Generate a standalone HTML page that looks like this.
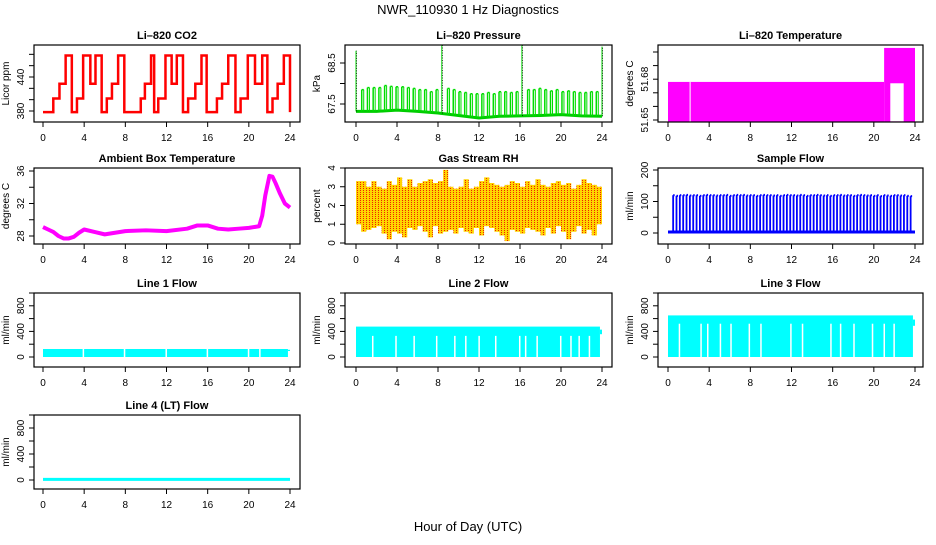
<!DOCTYPE html>
<html><head><meta charset="utf-8"><style>
html,body{margin:0;padding:0;background:#fff}
svg text{font-family:"Liberation Sans",sans-serif}
</style></head><body>
<svg id="chart" width="936" height="540" viewBox="0 0 936 540" xmlns="http://www.w3.org/2000/svg">
<defs>
<pattern id="reddots" width="3" height="2" patternUnits="userSpaceOnUse"><rect x="0" y="0" width="1" height="1" fill="#ee2200"/></pattern>
</defs>
<text x="468" y="14" font-size="13" text-anchor="middle">NWR_110930  1 Hz Diagnostics</text>
<text x="468" y="531" font-size="13" text-anchor="middle">Hour of Day (UTC)</text>
</svg>
<script>
// ---- data arrays ----
const xTicks = [0,4,8,12,16,20,24];
const co2StepHours = [0,1.0,1.6,2.2,2.8,3.3,3.9,4.6,5.1,5.7,6.2,6.7,7.3,7.9,9.5,9.9,10.5,10.8,11.2,11.9,12.5,13.0,13.6,14.1,14.8,15.4,15.9,16.9,17.4,18.0,18.7,19.2,19.9,20.6,21.3,21.8,22.3,22.8,23.4,24.0];
const co2StepValues = [378,402,428,478,378,402,478,428,478,378,402,428,478,378,402,428,478,378,402,478,428,478,378,402,428,478,378,402,428,478,378,402,478,428,478,378,402,428,478,378];
const presBaseHours = [0,2,4,6,8,10,12,14,16,18,20,22,24];
const presBaseValues = [67.32,67.32,67.35,67.32,67.28,67.22,67.16,67.2,67.21,67.22,67.24,67.21,67.2];
const presSpikeValues = [68.8,67.85,67.9,67.9,67.9,67.95,67.93,67.92,67.92,67.9,67.88,67.85,67.85,67.8,67.85,69.0,67.88,67.85,67.8,67.78,67.75,67.75,67.75,67.78,67.75,67.8,67.8,67.78,67.8,69.0,67.85,67.85,67.88,67.85,67.82,67.85,67.8,67.82,67.8,67.78,67.78,67.8,67.8,68.9];
const tempLowLevel = 51.678, tempHighLevel = 51.703, tempSwitchHour = 21;
const ambHours = [0,0.5,1,1.5,2,2.5,3,3.5,4,5,6,7,8,10,12,14,15,16,17,18,19,20,21,21.3,21.6,22,22.3,22.6,23,23.5,24];
const ambValues = [29.1,28.8,28.5,28.0,27.7,27.7,27.9,28.4,28.8,28.5,28.2,28.4,28.6,28.7,28.6,28.9,29.3,29.3,28.9,28.8,28.9,29.0,29.2,30.5,33.0,35.4,35.3,34.5,33.3,32.0,31.5];
const rhHi = [3.3,3.3,3.0,3.3,3.0,2.9,3.3,3.1,3.5,3.0,3.4,3.0,3.2,3.3,3.4,3.2,3.3,3.9,3.0,2.9,3.0,3.4,2.9,3.0,3.3,3.5,3.2,3.1,3.0,3.1,3.3,3.2,3.0,3.3,3.1,3.4,3.1,3.0,3.2,3.3,3.1,3.2,2.9,3.1,3.4,3.2,3.1,3.0];
const rhLo = [1.0,0.6,0.7,0.8,0.9,0.5,0.2,0.6,0.5,0.3,0.8,0.7,0.9,0.6,0.3,0.9,0.5,0.6,0.7,0.5,0.8,0.6,0.5,0.8,0.4,0.9,0.8,0.6,0.4,0.1,0.7,0.6,0.5,0.8,0.7,0.6,0.4,0.8,0.5,0.9,0.6,0.2,0.6,0.9,0.5,0.7,0.4,1.0];
const flowSpikeValues = [120,118,120,120,121,119,120,120,118,120,121,120,120,119,120,120,121,118,120,121,120,121,119,120,120,118,120,121,120,120,119,120,118,120,121,120,120,119,121,120,118,120,120,121,120,119,120,118,120,120,121,119,120,120,118,120,121,120,119,120,118,120,117,120,119,118,120,120,119,120,118,117];
const line1Top = 125, line1Gaps = [3.85,7.85,11.9,15.9,19.9,21.0];
const line2Top = 475, line2GapTop = 330, line2Gaps = [1.56,3.83,5.6,7.8,9.57,10.64,11.94,13.56,15.9,16.48,17.6,19.9,20.9,21.7,22.7];
const line3Top = 650, line3GapTop = 520, line3Gaps = [1.04,3.14,3.79,5.02,6.05,7.83,8.96,11.87,13.0,15.76,16.7,18.0,19.8,20.94,21.9];
const line4Value = 10;

// ---- layout ----
const svg = document.getElementById('chart');
const NS = 'http://www.w3.org/2000/svg';
const COLS = [{L:34,R:300,x0:43,x24:290},{L:345,R:612,x0:356,x24:602},{L:658,R:923,x0:668,x24:915}];
const ROWS = [{T:45,B:122},{T:168,B:244},{T:293,B:367},{T:415,B:489}];
function mk(tag, attrs, parent){const e=document.createElementNS(NS,tag);for(const k in attrs)e.setAttribute(k,attrs[k]);(parent||svg).appendChild(e);return e;}

function panel(name, c, r, title, ylab, v1, p1, v2, p2, ticks, labels){
  const col=COLS[c], row=ROWS[r];
  const g = mk('g',{});
  
  
  const xs = h => col.x0 + (h/24)*(col.x24-col.x0);
  const ys = v => p1 + (v-v1)*(p2-p1)/(v2-v1);
  const plot = mk('g',{},g);
  
  
  const cp = mk('clipPath',{id:'clip-'+name},g);
  mk('rect',{x:col.L,y:row.T,width:col.R-col.L,height:row.B-row.T},cp);
  plot.setAttribute('clip-path','url(#clip-'+name+')');
  const box = mk('rect',{x:col.L,y:row.T,width:col.R-col.L,height:row.B-row.T,fill:'none',stroke:'#000','stroke-width':1.2},g);
  
  
  const t = mk('text',{x:(col.L+col.R)/2,y:row.T-6,'font-size':11,'font-weight':'bold','text-anchor':'middle'},g);
  t.textContent = title;
  
  
  const xa = mk('g',{},g);
  
  
  mk('line',{x1:xs(0),x2:xs(24),y1:row.B,y2:row.B,stroke:'#000'},xa);
  xTicks.forEach(h=>{
    mk('line',{x1:xs(h),x2:xs(h),y1:row.B,y2:row.B+5,stroke:'#000'},xa);
    const tl = mk('text',{x:xs(h),y:row.B+19,'font-size':10,'text-anchor':'middle'},xa);
    tl.textContent = h;
    
    
  });
  const ya = mk('g',{},g);
  
  
  mk('line',{x1:col.L,x2:col.L,y1:ys(ticks[0]),y2:ys(ticks[ticks.length-1]),stroke:'#000'},ya);
  ticks.forEach(v=>{
    mk('line',{x1:col.L-5,x2:col.L,y1:ys(v),y2:ys(v),stroke:'#000'},ya);
  });
  labels.forEach(v=>{
    const x = col.L-10, y = ys(v);
    const tl = mk('text',{x:x,y:y,'font-size':10,'text-anchor':'middle',transform:'rotate(-90 '+x+' '+y+')'},ya);
    tl.textContent = v;
    
    
  });
  const lx = col.L-25, ly=(row.T+row.B)/2;
  const yl = mk('text',{x:lx,y:ly,'font-size':10,'text-anchor':'middle',transform:'rotate(-90 '+lx+' '+ly+')'},g);
  yl.textContent = ylab;
  
  
  return {plot, xs, ys};
}

// 1 CO2
(function(){
  const p = panel('co2',0,0,'Li\u2013820 CO2','Licor ppm',380,111,440,77,[380,400,420,440,460,480],[380,440]);
  let d='';
  for(let i=0;i<co2StepHours.length;i++){
    const x=p.xs(co2StepHours[i]), y=p.ys(co2StepValues[i]);
    if(i===0) d+='M'+x+','+y; else d+='V'+y;
    if(i<co2StepHours.length-1) d+='H'+p.xs(co2StepHours[i+1]);
  }
  const s = mk('path',{d:d,fill:'none',stroke:'#ff0000','stroke-width':2.5},p.plot);
  
  
})();

// 2 Pressure
(function(){
  const p = panel('pressure',1,0,'Li\u2013820 Pressure','kPa',67.5,104,68.5,63,[67.5,68.0,68.5],[67.5,68.5]);
  const base = h => {for(let i=0;i<presBaseHours.length-1;i++){if(h<=presBaseHours[i+1]){const f=(h-presBaseHours[i])/(presBaseHours[i+1]-presBaseHours[i]);return presBaseValues[i]+f*(presBaseValues[i+1]-presBaseValues[i]);}}return presBaseValues[presBaseValues.length-1];};
  const bp = presBaseHours.map((h,i)=>p.xs(h)+','+p.ys(presBaseValues[i])).join(' ');
  const b = mk('polyline',{points:bp,fill:'none',stroke:'#00cc00','stroke-width':3},p.plot);
  
  
  const n=presSpikeValues.length;
  presSpikeValues.forEach((v,i)=>{
    const h = i*24/(n-1);
    const x = p.xs(h);
    const big = v>68.3;
    const l = mk('line',{x1:x,x2:x,y1:p.ys(base(h)),y2:p.ys(v),stroke:'#00dd00','stroke-width':big?1:1.5},p.plot);
    
    
    if(!big){
      mk('line',{x1:x+2,x2:x+2,y1:p.ys(v),y2:p.ys(base(h)),stroke:'#00dd00','stroke-width':1},p.plot);
      mk('line',{x1:x,x2:x+2,y1:p.ys(v),y2:p.ys(v),stroke:'#00dd00','stroke-width':1.5},p.plot);
    } else {
      mk('line',{x1:x+0.5,x2:x+0.5,y1:p.ys(base(h)),y2:p.ys(v),stroke:'#000','stroke-width':0.8,'stroke-dasharray':'1,1.5'},p.plot);
    }
  });
})();

// 3 Temperature
(function(){
  const p = panel('li820-temp',2,0,'Li\u2013820 Temperature','degrees C',51.65,120,51.70,52,[51.65,51.66,51.67,51.68,51.69,51.70],[51.65,51.68]);
  const a = mk('rect',{x:p.xs(0),y:p.ys(tempLowLevel),width:p.xs(tempSwitchHour)-p.xs(0),height:p.ys(51.65)-p.ys(tempLowLevel)+2,fill:'#ff00ff'},p.plot);
  
  
  const b = mk('rect',{x:p.xs(tempSwitchHour),y:p.ys(tempHighLevel),width:p.xs(24)-p.xs(tempSwitchHour),height:p.ys(51.65)-p.ys(tempHighLevel)+2,fill:'#ff00ff'},p.plot);
  
  
  mk('rect',{x:p.xs(2.1),y:p.ys(tempLowLevel),width:1,height:40,fill:'#fff'},p.plot);
  mk('rect',{x:p.xs(21.6),y:p.ys(tempLowLevel-0.001),width:p.xs(22.9)-p.xs(21.6),height:p.ys(51.65)-p.ys(tempLowLevel),fill:'#fff'},p.plot);
})();

// 4 Ambient
(function(){
  const p = panel('ambient',0,1,'Ambient Box Temperature','degrees C',28,236,36,171,[28,30,32,34,36],[28,32,36]);
  const pts = ambHours.map((h,i)=>p.xs(h)+','+p.ys(ambValues[i])).join(' ');
  const s = mk('polyline',{points:pts,fill:'none',stroke:'#ff00ff','stroke-width':4,'stroke-linejoin':'round'},p.plot);
  
  
})();

// 5 RH
(function(){
  const p = panel('rh',1,1,'Gas Stream RH','percent',0,243,4,168,[0,1,2,3,4],[0,1,2,3,4]);
  const n=rhHi.length, w=(p.xs(24)-p.xs(0))/n;
  let d='';
  rhHi.forEach((v,i)=>{const x=p.xs(i*24/n);d+='M'+x+','+p.ys(v)+'H'+(x+w)+'V'+p.ys(rhLo[i])+'H'+x+'Z';});
  const y = mk('path',{d:d,fill:'#ffd400'},p.plot);
  
  
  mk('path',{d:d,fill:'url(#reddots)'},p.plot);
})();

// 6 Sample flow
(function(){
  const p = panel('sample-flow',2,1,'Sample Flow','ml/min',0,233,200,170,[0,50,100,150,200],[0,100,200]);
  const base = mk('line',{x1:p.xs(0),x2:p.xs(24),y1:p.ys(3),y2:p.ys(3),stroke:'#0000ff','stroke-width':3},p.plot);
  
  
  const n=flowSpikeValues.length;
  flowSpikeValues.forEach((v,i)=>{
    const x=p.xs(0.5+i*23.4/n);
    const l=mk('line',{x1:x,x2:x,y1:p.ys(0),y2:p.ys(v),stroke:'#0000ff','stroke-width':1.8},p.plot);
    
    
    mk('line',{x1:x,x2:x+1.5,y1:p.ys(v),y2:p.ys(v),stroke:'#0000ff','stroke-width':2},p.plot);
  });
})();

// Line flows
function flowPanel(name,c,r,title,top,gapTop,gaps){
  const p = panel(name,c,r,title,'ml/min',0,ROWS[r].B-10,1000,ROWS[r].T,[0,200,400,600,800,1000],[0,400,800]);
  const a = mk('rect',{x:p.xs(0),y:p.ys(top),width:p.xs(23.8)-p.xs(0),height:p.ys(0)-p.ys(top),fill:'#00ffff'},p.plot);
  
  
  mk('rect',{x:p.xs(23.8),y:p.ys(top*0.9),width:p.xs(24)-p.xs(23.8),height:p.ys(top*0.75)-p.ys(top*0.9),fill:'#00ffff'},p.plot);
  gaps.forEach(h=>{
    const g=mk('rect',{x:p.xs(h),y:p.ys(gapTop),width:1.5,height:p.ys(0)-p.ys(gapTop)+1,fill:'#fff'},p.plot);
    
    
  });
}
flowPanel('line1-flow',0,2,'Line 1 Flow',line1Top,line1Top,line1Gaps);
flowPanel('line2-flow',1,2,'Line 2 Flow',line2Top,line2GapTop,line2Gaps);
flowPanel('line3-flow',2,2,'Line 3 Flow',line3Top,line3GapTop,line3Gaps);
(function(){
  const p = panel('line4-flow',0,3,'Line 4 (LT) Flow','ml/min',0,480,1000,415,[0,200,400,600,800,1000],[0,400,800]);
  const s = mk('line',{x1:p.xs(0),x2:p.xs(24),y1:p.ys(line4Value),y2:p.ys(line4Value),stroke:'#00ffff','stroke-width':3},p.plot);
  
  
})();
</script>
</body></html>
